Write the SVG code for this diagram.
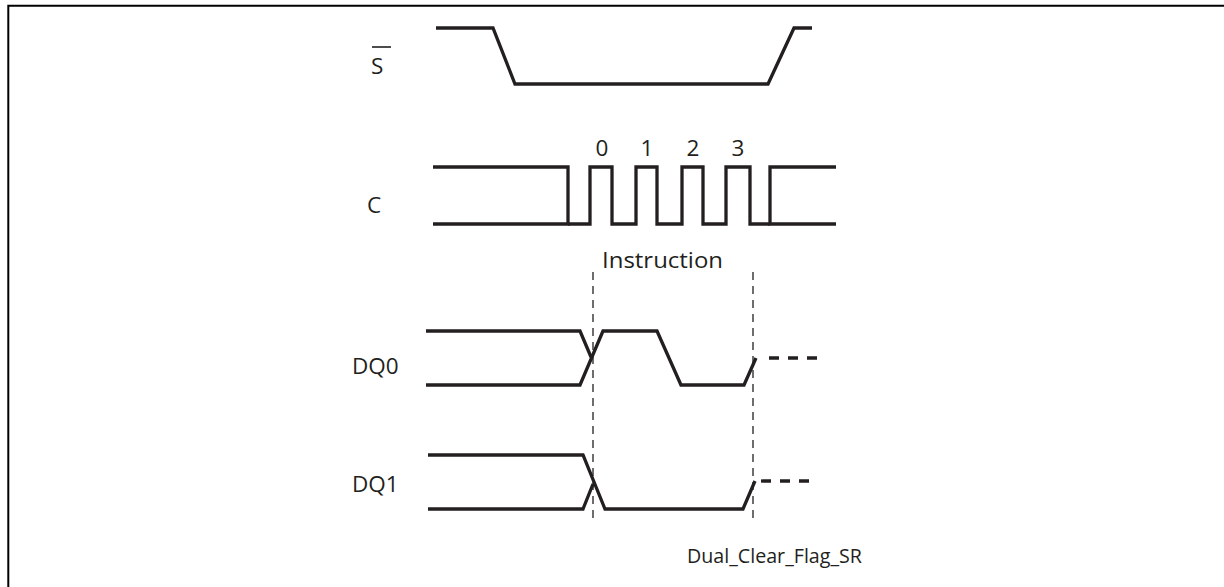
<svg xmlns="http://www.w3.org/2000/svg" width="1224" height="587" viewBox="0 0 1224 587">
<style>
.sig{fill:none;stroke:#231f20;stroke-width:3.3;stroke-linejoin:miter;stroke-linecap:butt}
.dash{fill:none;stroke:#231f20;stroke-width:3.3;stroke-dasharray:10 9}
.guide{fill:none;stroke:#231f20;stroke-width:1.3;stroke-dasharray:8 6}
.lbl{font-family:"Open Sans","Noto Sans",sans-serif;font-size:22.5px;fill:#231f20}
.cap{font-family:"Open Sans","Noto Sans",sans-serif;font-size:19.5px;fill:#231f20}
</style>
<rect x="0" y="0" width="1224" height="587" fill="#fff"/>
<path d="M8.3,590 V5.7 H1230" fill="none" stroke="#000" stroke-width="2"/>

<g id="S_bar">
<text class="lbl" x="371" y="74">S</text>
<line x1="372" y1="47" x2="391" y2="47" stroke="#231f20" stroke-width="1.6"/>
<path class="sig" d="M436,28 H493 L515,84 H768 L794,28 H812"/>
</g>

<g id="C">
<text class="lbl" x="367" y="213">C</text>
<path class="sig" d="M433,167 H568 V224 H433"/>
<path class="sig" d="M568,224 H590 V167 H612 V224 H636 V167 H657 V224 H682 V167 H703 V224 H726 V167 H750 V224 H770"/>
<path class="sig" d="M836,167 H770 V224 H836"/>
<text class="lbl" x="602" y="156" text-anchor="middle">0</text>
<text class="lbl" x="647" y="156" text-anchor="middle">1</text>
<text class="lbl" x="693" y="156" text-anchor="middle">2</text>
<text class="lbl" x="738" y="156" text-anchor="middle">3</text>
</g>

<g id="Instruction">
<text class="lbl" x="602" y="268" textLength="121" lengthAdjust="spacingAndGlyphs">Instruction</text>
</g>

<g id="DQ0">
<text class="lbl" x="352" y="374">DQ0</text>
<path class="sig" d="M426,331 H580 L591,357"/>
<path class="sig" d="M426,385 H580 L603,331 H657 L681,385 H744 L756,358"/>
<path class="dash" d="M769,358 H822"/>
</g>

<g id="DQ1">
<text class="lbl" x="352" y="492">DQ1</text>
<path class="sig" d="M428,455 H583 L605,509 H743 L755,481"/>
<path class="sig" d="M428,509 H583 L593,484"/>
<path class="dash" d="M761,481 H814"/>
</g>

<g id="connectors">
<line class="guide" x1="593" y1="272" x2="593" y2="518"/>
<line class="guide" x1="753" y1="272" x2="753" y2="518"/>
</g>

<g id="caption">
<text class="cap" x="687" y="563" textLength="175" lengthAdjust="spacingAndGlyphs">Dual_Clear_Flag_SR</text>
</g>
</svg>
